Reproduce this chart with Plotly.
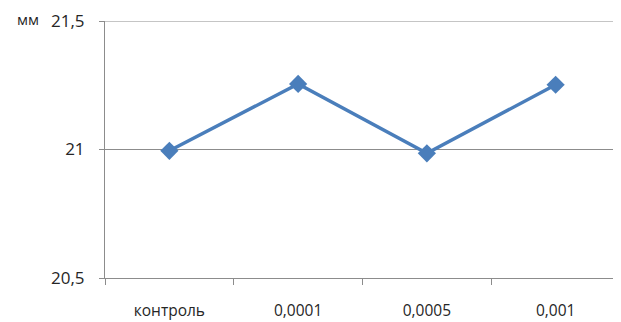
import plotly.graph_objects as go

categories = ["контроль", "0,0001", "0,0005", "0,001"]
values = [20.995, 21.255, 20.985, 21.252]
y_ticks = [20.5, 21.0, 21.5]
y_tick_labels = ["20,5", "21", "21,5"]
unit_label = "мм"

font = "Open Sans"
text_color = "#262626"
grid_color = "#8c8c8c"

# page body has an 8px margin, so the figure is sized/offset to fit the window
W, H = 613, 314
L, R, T, B = 97, 1, 13, 44

fig = go.Figure()
fig.add_trace(go.Scatter(
    x=categories, y=values, mode="lines+markers",
    line=dict(color="#4a7ebb", width=3.5),
    marker=dict(symbol="diamond", size=14, color="#4a7ebb"),
    showlegend=False,
))

pw = W - L - R
ph = H - T - B

fig.update_layout(
    width=W, height=H,
    margin=dict(l=L, r=R, t=T, b=B, autoexpand=False),
    paper_bgcolor="white", plot_bgcolor="white",
    font=dict(family=font, size=14, color=text_color),
    xaxis=dict(
        type="category", tickson="boundaries", automargin=False,
        showgrid=False, showline=True, linecolor=grid_color, linewidth=1,
        ticks="outside", ticklen=6, tickcolor=grid_color,
        ticklabelstandoff=18, range=[-0.5, 3.5],
        tickfont=dict(family=font, size=15.5, color=text_color),
    ),
    yaxis=dict(
        range=[20.5, 21.5], tickvals=y_ticks, ticktext=y_tick_labels,
        automargin=False,
        showgrid=True, gridcolor=grid_color, gridwidth=1,
        showline=True, linecolor=grid_color, linewidth=1,
        ticks="outside", ticklen=5, tickcolor=grid_color,
        ticklabelstandoff=11, zeroline=False,
        tickfont=dict(family=font, size=17, color=text_color),
    ),
    shapes=[dict(
        type="line", xref="paper", yref="y", x0=0, x1=1, y0=21.5, y1=21.5,
        line=dict(color=grid_color, width=1), layer="below",
    )],
    annotations=[dict(
        text=unit_label, xref="paper", yref="paper",
        x=-(L - 7) / pw, y=1 + 2 / ph, xanchor="left", yanchor="middle",
        showarrow=False, font=dict(family=font, size=15, color=text_color),
    )],
)

fig.write_html("out.html")
